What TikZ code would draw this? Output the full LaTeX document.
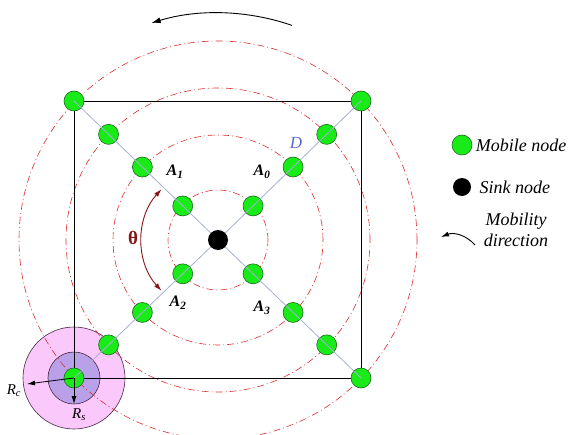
\documentclass[tikz,border=0pt]{standalone}
\usepackage{fontspec}
\setmainfont{Liberation Serif}
\usetikzlibrary{calc,positioning,arrows.meta}

\definecolor{nodegreen}{RGB}{25,235,25}
\definecolor{nodeline}{RGB}{30,105,30}
\definecolor{linkblue}{RGB}{165,175,215}
\definecolor{rangered}{RGB}{220,45,45}
\definecolor{rcpink}{RGB}{250,200,250}
\definecolor{rspurple}{RGB}{185,160,232}
\definecolor{rimline}{RGB}{70,40,70}
\definecolor{thetared}{RGB}{135,20,20}
\definecolor{dblue}{RGB}{85,105,215}

\begin{document}
\begin{tikzpicture}[x=1pt,y=1pt]

\tikzset{
    mobile/.style={
        circle,
        draw=nodeline,
        fill=nodegreen,
        line width=0.6pt,
        minimum size=20pt,
        inner sep=0pt,
    },
    sink/.style={
        circle,
        fill=black,
        minimum size=20pt,
        inner sep=0pt,
    },
    hopring/.style={
        draw=rangered,
        line width=0.6pt,
        dash pattern=on 7pt off 3pt on 1pt off 3pt,
    },
    link/.style={draw=linkblue, line width=0.8pt},
    tip/.style={-{Latex[length=9pt,width=6pt]}},
    alabel/.style={font=\fontsize{16}{18}\selectfont\bfseries\itshape},
    legend/.style={font=\fontsize{18}{21}\selectfont\itshape, anchor=west}
}

\useasboundingbox (-218,-194) rectangle (351,240);

\foreach \q/\cx/\cy in {0/143/139, 1/-144/139, 2/-144/-138, 3/143/-138} {
    \coordinate (c\q) at (\cx,\cy);
}

\begin{scope}[shift={(c2)}]
\draw[draw=rimline, fill=rcpink, line width=0.6pt] (0,0) circle (51pt);
\draw[draw=rimline, fill=rspurple, line width=0.6pt] (0,0) circle (26pt);
\end{scope}

\foreach \r in {50,105,152,199} {
    \draw[hopring] (0,0) circle (\r pt);
}

\draw[line width=0.7pt] (c1) rectangle (c3);

\node (sink) [sink] at (0,0) {};

\foreach \q in {0,...,3} {
    \foreach \f [count=\i] in {0.245,0.525,0.76,1} {
        \node (m\q\i) [mobile] at ($(sink.center)!\f!(c\q)$) {};
    }
    \draw[link] (sink) -- (m\q4.center);
}

\node (a0) [alabel] at (44,68) {A\textsubscript{0}};
\node (a1) [alabel] at (-43,68) {A\textsubscript{1}};
\node (a2) [alabel] at (-40,-63) {A\textsubscript{2}};
\node (a3) [alabel] at (44,-68) {A\textsubscript{3}};
\node (d) [font=\fontsize{17}{19}\selectfont\itshape, text=dblue] at (78,97) {D};

\draw[thetared, line width=0.9pt, {Latex[length=8pt,width=5pt]}-{Latex[length=8pt,width=5pt]}] (138:76pt) arc (138:222:76pt);
\node (theta) [font=\fontsize{19}{21}\selectfont\bfseries, text=thetared] at (-85,2) {θ};

\draw[line width=0.9pt, tip] (71:227pt) arc (71:107:227pt);

\coordinate (rc) at (-191,-144);
\coordinate (rs) at (-144,-164);
\draw[line width=0.8pt, -{Latex[length=8pt,width=5pt]}] (m24.center) -- (rc);
\draw[line width=0.8pt, -{Latex[length=8pt,width=5pt]}] (m24.center) -- (rs);
\node (rclabel) [font=\fontsize{15}{17}\selectfont\itshape] at (-204,-151) {R\textsubscript{c}};
\node (rslabel) [font=\fontsize{15}{17}\selectfont\itshape] at (-139,-175) {R\textsubscript{s}};

\node (legmobile) [mobile] at (244,95) {};
\node (legmobiletext) [legend, right=0pt of legmobile] {Mobile node};
\node (legsink) [sink, minimum size=18pt] at (244,53) {};
\node (legsinktext) [legend, right=5pt of legsink] {Sink node};
\node (legmove) [legend, anchor=center, align=center] at (298,10) {Mobility\\direction};
\coordinate (movestart) at (257,-5);
\coordinate (moveend) at (223,3);
\draw[line width=0.9pt, -{Latex[length=8pt,width=5pt]}] (movestart) to[bend right=35] (moveend);

\end{tikzpicture}
\end{document}
